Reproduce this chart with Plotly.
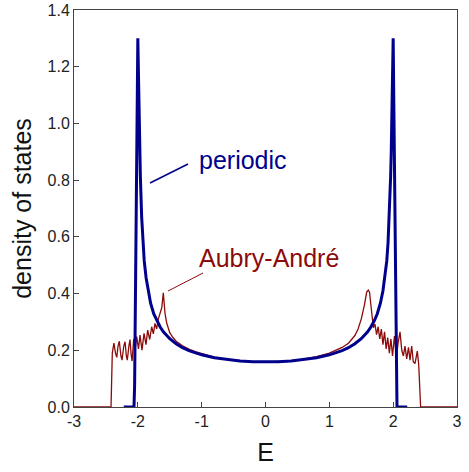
import plotly.graph_objects as go

# ---- data ----
E_periodic = [-2.22, -2.06, -2.05, -2.04, -2.03, -2.02, -2.01, -2.0, -1.99, -1.98, -1.97, -1.96,
              -1.94, -1.92, -1.9, -1.87, -1.84, -1.8, -1.75, -1.7, -1.65, -1.6, -1.5, -1.4, -1.3,
              -1.2, -1.1, -1.0, -0.8, -0.6, -0.4, -0.2, 0.0, 0.2, 0.4, 0.6, 0.8, 1.0, 1.1, 1.2,
              1.3, 1.4, 1.5, 1.6, 1.65, 1.7, 1.75, 1.8, 1.84, 1.87, 1.9, 1.92, 1.94, 1.96, 1.97,
              1.98, 1.99, 2.0, 2.01, 2.02, 2.03, 2.04, 2.05, 2.06, 2.22]
dos_periodic = [0.0, 0.0, 0.08, 0.3, 0.55, 0.82, 1.08, 1.30, 1.17, 1.02, 0.9, 0.81,
                0.67, 0.58, 0.515, 0.455, 0.41, 0.366, 0.328, 0.302, 0.282, 0.265, 0.241, 0.223, 0.209,
                0.199, 0.191, 0.184, 0.174, 0.167, 0.162, 0.16, 0.159, 0.16, 0.162, 0.167, 0.174, 0.184, 0.191, 0.199,
                0.209, 0.223, 0.241, 0.265, 0.282, 0.302, 0.328, 0.366, 0.41, 0.455, 0.515, 0.58, 0.67, 0.81, 0.9,
                1.02, 1.17, 1.30, 1.08, 0.82, 0.55, 0.3, 0.08, 0.0, 0.0]

E_aa = [-3.0, -2.42, -2.40, -2.375, -2.35, -2.33, -2.31, -2.29, -2.265, -2.248, -2.22, -2.2,
        -2.18, -2.165, -2.14, -2.123, -2.105, -2.09, -2.065, -2.044, -2.018, -1.99, -1.966,
        -1.935, -1.903, -1.872, -1.846, -1.814, -1.783, -1.757, -1.731, -1.705, -1.68, -1.653,
        -1.625, -1.601, -1.588, -1.574, -1.548, -1.5, -1.45, -1.4, -1.3, -1.2, -1.1, -1.0,
        -0.8, -0.6, -0.4, -0.2, 0.0, 0.2, 0.4, 0.6, 0.8, 1.0, 1.1, 1.2, 1.3, 1.4, 1.45, 1.5,
        1.55, 1.585, 1.61, 1.63, 1.648, 1.674, 1.69, 1.715, 1.74, 1.765, 1.79, 1.815, 1.84,
        1.865, 1.89, 1.915, 1.94, 1.965, 1.99, 2.02, 2.05, 2.08, 2.107, 2.135, 2.16, 2.185,
        2.212, 2.24, 2.264, 2.29, 2.315, 2.342, 2.36, 2.378, 2.40, 2.42, 2.43, 3.0]
dos_aa = [0.0, 0.0, 0.19, 0.225, 0.19, 0.175, 0.215, 0.232, 0.18, 0.165, 0.215, 0.23,
          0.18, 0.165, 0.215, 0.238, 0.185, 0.162, 0.24, 0.205, 0.248, 0.205, 0.254,
          0.2, 0.26, 0.22, 0.271, 0.238, 0.283, 0.258, 0.295, 0.275, 0.31, 0.33,
          0.35, 0.403, 0.37, 0.33, 0.296, 0.262, 0.245, 0.232, 0.216, 0.204, 0.195, 0.188,
          0.176, 0.168, 0.163, 0.16, 0.159, 0.16, 0.163, 0.169, 0.178, 0.19, 0.199, 0.21, 0.225, 0.252, 0.275, 0.31,
          0.36, 0.405, 0.412, 0.405, 0.366, 0.307, 0.28, 0.292, 0.255, 0.283, 0.24, 0.275, 0.22,
          0.265, 0.205, 0.245, 0.19, 0.24, 0.18, 0.25, 0.175, 0.23, 0.265, 0.2, 0.18, 0.215,
          0.17, 0.21, 0.165, 0.215, 0.16, 0.153, 0.18, 0.197, 0.15, 0.02, 0.0, 0.0]

x_tick_vals = [-3, -2, -1, 0, 1, 2, 3]
x_tick_labels = ["-3", "-2", "-1", "0", "1", "2", "3"]
y_tick_vals = [0.0, 0.2, 0.4, 0.6, 0.8, 1.0, 1.2, 1.4]
y_tick_labels = ["0.0", "0.2", "0.4", "0.6", "0.8", "1.0", "1.2", "1.4"]

BLUE = "#00008c"
RED = "#8b0a0a"
FONT = "Arial, Liberation Sans, sans-serif"

fig = go.Figure()
fig.add_trace(go.Scatter(x=E_aa, y=dos_aa, mode="lines",
                         line=dict(color=RED, width=1.3), showlegend=False))
fig.add_trace(go.Scatter(x=E_periodic, y=dos_periodic, mode="lines",
                         line=dict(color=BLUE, width=3), showlegend=False))

fig.add_annotation(x=-1.073, y=0.871, xref="x", yref="y", text="periodic", showarrow=False,
                   xanchor="left", yanchor="middle", font=dict(family=FONT, size=25, color=BLUE))
fig.add_annotation(x=-1.073, y=0.524, xref="x", yref="y", text="Aubry-André", showarrow=False,
                   xanchor="left", yanchor="middle", font=dict(family=FONT, size=25, color=RED))
fig.add_shape(type="line", x0=-1.809, y0=0.790, x1=-1.214, y1=0.857, xref="x", yref="y",
              line=dict(color=BLUE, width=1.5))
fig.add_shape(type="line", x0=-1.527, y0=0.409, x1=-0.979, y1=0.4725, xref="x", yref="y",
              line=dict(color=RED, width=1))

axis_common = dict(showgrid=False, zeroline=False, showline=True, linecolor="#444444", linewidth=1,
                   mirror=True, ticks="inside", ticklen=5, tickcolor="#444444", automargin=False,
                   tickfont=dict(family=FONT, size=16, color="#222222"))
fig.update_xaxes(range=[-3, 3], tickvals=x_tick_vals, ticktext=x_tick_labels,
                 title=dict(text="E", font=dict(family=FONT, size=25, color="#111111"), standoff=14),
                 **axis_common)
fig.update_yaxes(range=[0, 1.4], tickvals=y_tick_vals, ticktext=y_tick_labels,
                 title=dict(text="density of states", font=dict(family=FONT, size=25, color="#111111"), standoff=8),
                 **axis_common)
fig.update_layout(width=469, height=472, margin=dict(l=74, r=12, t=10, b=65),
                  plot_bgcolor="white", paper_bgcolor="white")
fig.write_html("out.html")
